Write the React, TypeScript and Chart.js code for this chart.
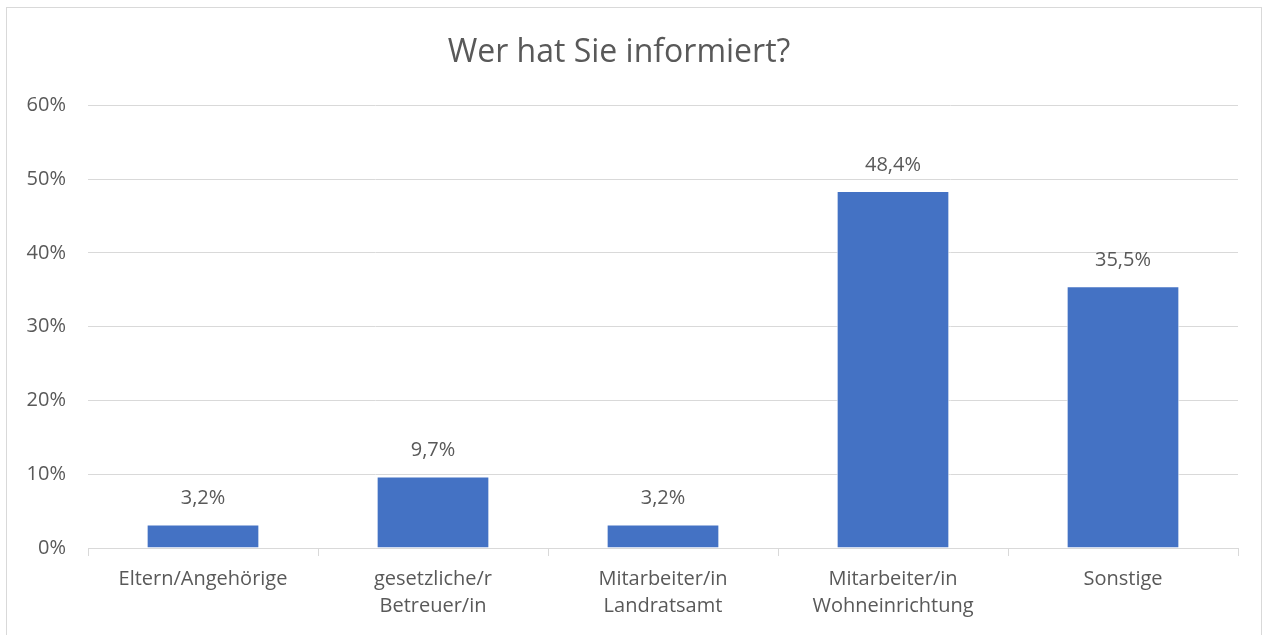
import React, { useEffect, useRef } from "react";
import { Chart, registerables } from "chart.js";

Chart.register(...registerables);

const categories: (string | string[])[] = [
  "Eltern/Angehörige",
  ["gesetzliche/r", "Betreuer/in"],
  ["Mitarbeiter/in", "Landratsamt"],
  ["Mitarbeiter/in", "Wohneinrichtung"],
  "Sonstige",
];
const values = [3.2, 9.7, 3.2, 48.4, 35.5];
const yTicks = [0, 10, 20, 30, 40, 50, 60];
const titleText = "Wer hat Sie informiert?";

const FONT = "'Open Sans', sans-serif";
const TEXT = "#595959";
const GRID = "#d9d9d9";
const BAR = "#4472C4";

const fmt = (v: number) => v.toFixed(1).replace(".", ",") + "%";

const dataLabels = {
  id: "dataLabels",
  afterDatasetsDraw(chart: any) {
    const ctx = chart.ctx;
    const meta = chart.getDatasetMeta(0);
    ctx.save();
    ctx.font = `20px ${FONT}`;
    ctx.fillStyle = TEXT;
    ctx.textAlign = "center";
    ctx.textBaseline = "middle";
    meta.data.forEach((bar: any, i: number) => {
      ctx.fillText(fmt(values[i]), bar.x, bar.y - 26);
    });
    ctx.restore();
  },
};

export default function App() {
  const ref = useRef<HTMLCanvasElement>(null);
  useEffect(() => {
    document.body.style.margin = "0";
    const chart = new Chart(ref.current!, {
      type: "bar",
      data: {
        labels: categories,
        datasets: [
          {
            data: values,
            backgroundColor: BAR,
            borderColor: "#ffffff",
            borderWidth: 1,
            categoryPercentage: 1,
            barPercentage: 0.49,
          },
        ],
      },
      options: {
        animation: false,
        responsive: false,
        layout: { padding: { left: 0, right: 30, top: 0, bottom: 0 } },
        plugins: {
          legend: { display: false },
          tooltip: { enabled: false },
          title: {
            display: true,
            text: titleText,
            color: TEXT,
            font: { family: FONT, size: 32, weight: "normal", lineHeight: 1.2 },
            padding: { top: 34, bottom: 33 },
          },
        },
        scales: {
          x: {
            grid: {
              display: true,
              drawOnChartArea: false,
              drawTicks: true,
              tickLength: 8,
              color: GRID,
              offset: true,
            },
            border: { display: true, color: GRID, width: 1 },
            ticks: {
              color: TEXT,
              font: { family: FONT, size: 20, lineHeight: 1.38 },
              padding: 9,
              maxRotation: 0,
              autoSkip: false,
            },
            afterFit: (s: any) => {
              s.height = 87;
            },
          },
          y: {
            min: 0,
            max: 60,
            afterBuildTicks: (s: any) => {
              s.ticks = yTicks.map((v) => ({ value: v }));
            },
            grid: { color: GRID, drawTicks: false, lineWidth: 1 },
            border: { display: false },
            ticks: {
              color: TEXT,
              font: { family: FONT, size: 20 },
              padding: 22,
              callback: (v: any) => v + "%",
            },
            afterFit: (s: any) => {
              s.width = 88;
            },
          },
        },
      },
      plugins: [dataLabels],
    });
    return () => chart.destroy();
  }, []);
  return (
    <div style={{ position: "relative", width: 1268, height: 635, background: "#fff", overflow: "hidden" }}>
      <div
        style={{
          position: "absolute",
          left: 6,
          top: 7,
          width: 1256,
          height: 640,
          border: "1px solid #d9d9d9",
          boxSizing: "border-box",
        }}
      />
      <canvas ref={ref} width={1268} height={635} style={{ position: "absolute", left: 0, top: 0, display: "block" }} />
    </div>
  );
}
